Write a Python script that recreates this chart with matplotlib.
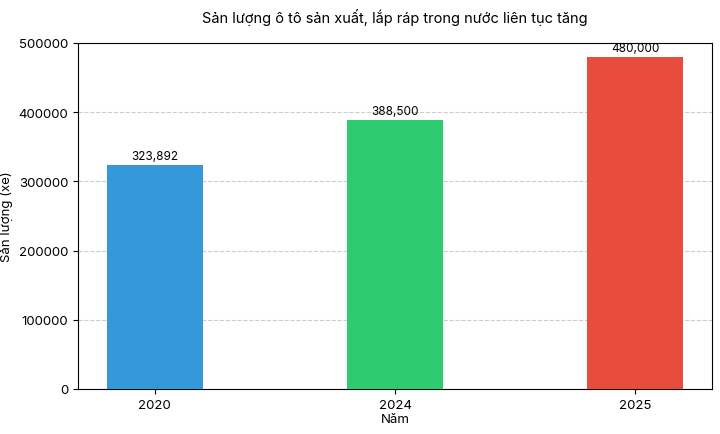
import matplotlib
matplotlib.use("Agg")
import matplotlib.pyplot as plt

plt.rcParams['font.family'] = ['Inter', 'DejaVu Sans']

years = ["2020", "2024", "2025"]
values = [323892, 388500, 480000]
colors = ["#3498db", "#2ecc71", "#e74c3c"]

fig = plt.figure(figsize=(7.2, 4.35), dpi=100)
ax = fig.add_axes([78/720, 1-390/435, 634/720, 346/435])
bars = ax.bar(years, values, color=colors, width=0.4, zorder=3)
ax.set_ylim(0, 500000)
ax.yaxis.grid(True, linestyle='--', color='#cccccc', linewidth=0.8, zorder=0)
for b, v in zip(bars, values):
    ax.text(b.get_x() + b.get_width()/2, v + 4000, f"{v:,}", ha='center', va='bottom', fontsize=8.5)
ax.set_xlabel("Năm", fontsize=9.5, labelpad=2)
ax.set_ylabel("Sản lượng (xe)", fontsize=9.5, labelpad=4)
ax.tick_params(labelsize=9.5)
fig.text(395/720, 1-18/435, "Sản lượng ô tô sản xuất, lắp ráp trong nước liên tục tăng", ha='center', va='center', fontsize=10.5)
fig.savefig("out.png", dpi=100)
